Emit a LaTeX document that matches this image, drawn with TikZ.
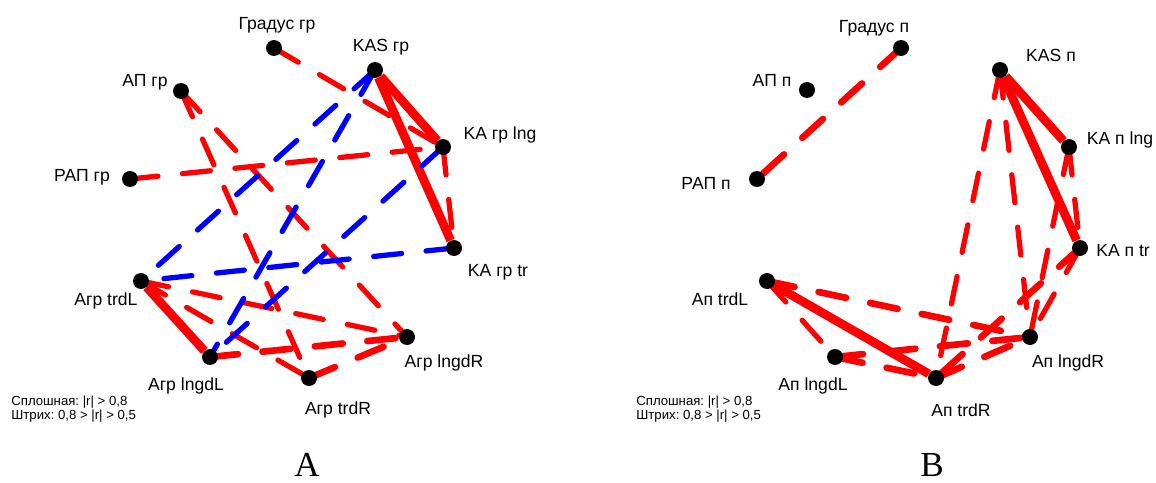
\documentclass[tikz,border=0pt]{standalone}
\usepackage{fontspec}
\setmainfont{Liberation Serif}
\newfontfamily\labfont{Liberation Sans}
\usepackage{tikz}
\usetikzlibrary{backgrounds}
\frenchspacing

\begin{document}
\begin{tikzpicture}[
  x=0.02cm, y=-0.02cm,
  vert/.style={circle, fill=black, inner sep=0pt, minimum size=0.32cm},
  tag/.style={font=\labfont\fontsize{10}{12}\selectfont, inner sep=0pt},
  strong/.style={draw=red, line width=5pt},
  weakpos/.style={draw=red, line width=3pt, line cap=round, dash pattern=on 16pt off 14pt},
  midpos/.style={weakpos, line width=3.8pt},
  weakneg/.style={weakpos, draw=blue},
  legend/.style={font=\labfont\fontsize{7.5}{7}\selectfont, align=left, anchor=west, inner sep=0pt},
  panel/.style={font=\fontsize{20}{24}\selectfont, inner sep=0pt}
]
  \useasboundingbox (0,0) rectangle (1156,483);

  % --- A: groups
  \node[vert] (gradA)  at (274,48)  {};
  \node[vert] (kasA)   at (375,70)  {};
  \node[vert] (apA)    at (181,91)  {};
  \node[vert] (kalngA) at (443,147) {};
  \node[vert] (rapA)   at (130,179) {};
  \node[vert] (katrA)  at (454,248) {};
  \node[vert] (trdlA)  at (141,281) {};
  \node[vert] (lngdrA) at (407,337) {};
  \node[vert] (lngdlA) at (210,357) {};
  \node[vert] (trdrA)  at (309,378) {};

  \node[tag] (gradAt)  at (277,25)  {Градус гр};
  \node[tag] (kasAt)   at (381,47)  {KAS гр};
  \node[tag] (apAt)    at (145,82)  {АП гр};
  \node[tag] (kalngAt) at (500,135) {KA гр lng};
  \node[tag] (rapAt)   at (82,177)  {РАП гр};
  \node[tag] (katrAt)  at (498,272) {KA гр tr};
  \node[tag] (trdlAt)  at (106,301) {Агр trdL};
  \node[tag] (lngdrAt) at (444,363) {Агр lngdR};
  \node[tag] (lngdlAt) at (186,386) {Агр lngdL};
  \node[tag] (trdrAt)  at (338,410) {Агр trdR};

  \node[legend] (keyA) at (11,409) {Сплошная: |r| > 0,8\\Штрих: 0,8 > |r| > 0,5};
  \node[panel] (capA) at (307,465) {A};

  % --- B: same variables
  \node[vert] (gradB)  at (901,48)  {};
  \node[vert] (kasB)   at (1000,70) {};
  \node[vert] (apB)    at (807,90)  {};
  \node[vert] (kalngB) at (1069,147) {};
  \node[vert] (rapB)   at (757,179) {};
  \node[vert] (katrB)  at (1080,248) {};
  \node[vert] (trdlB)  at (767,281) {};
  \node[vert] (lngdrB) at (1030,337) {};
  \node[vert] (lngdlB) at (835,357) {};
  \node[vert] (trdrB)  at (936,378) {};

  \node[tag] (gradBt)  at (874,28)  {Градус п};
  \node[tag] (kasBt)   at (1051,55) {KAS п};
  \node[tag] (apBt)    at (772,80)  {АП п};
  \node[tag] (kalngBt) at (1120,140) {KA п lng};
  \node[tag] (rapBt)   at (706,183) {РАП п};
  \node[tag] (katrBt)  at (1123,251) {KA п tr};
  \node[tag] (trdlBt)  at (720,299) {Ап trdL};
  \node[tag] (lngdrBt) at (1068,363) {Ап lngdR};
  \node[tag] (lngdlBt) at (813,386) {Ап lngdL};
  \node[tag] (trdrBt)  at (961,410) {Ап trdR};

  \node[legend] (keyB) at (636,409) {Сплошная: |r| > 0,8\\Штрих: 0,8 > |r| > 0,5};
  \node[panel] (capB) at (932,465) {B};

  \begin{scope}[on background layer]
    % links in A
    \draw[strong] (kasA) -- (kalngA);
    \draw[strong] (kasA) -- (katrA);
    \draw[strong] (trdlA) -- (lngdlA);
    \draw[weakpos] (gradA.center) -- (kalngA.center);
    \draw[weakpos] (kalngA.center) -- (katrA.center);
    \draw[weakpos] (rapA.center) -- (kalngA.center);
    \draw[weakpos] (apA.center) -- (trdrA.center);
    \draw[weakpos] (apA.center) -- (lngdrA.center);
    \draw[weakpos] (trdlA.center) -- (lngdrA.center);
    \draw[weakpos] (trdlA.center) -- (trdrA.center);
    \draw[midpos] (lngdlA.center) -- (lngdrA.center);
    \draw[midpos] (trdrA.center) -- (lngdrA.center);
    \draw[weakneg] (kasA.center) -- (trdlA.center);
    \draw[weakneg] (kasA.center) -- (lngdlA.center);
    \draw[weakneg] (kalngA.center) -- (lngdlA.center);
    \draw[weakneg] (katrA.center) -- (trdlA.center);

    % links in B
    \draw[strong] (kasB) -- (kalngB);
    \draw[strong] (kasB) -- (katrB);
    \draw[strong] (trdlB) -- (trdrB);
    \draw[midpos] (gradB.center) -- (rapB.center);
    \draw[weakpos] (kalngB.center) -- (katrB.center);
    \draw[weakpos] (kasB.center) -- (trdrB.center);
    \draw[weakpos] (kasB.center) -- (lngdrB.center);
    \draw[weakpos] (kalngB.center) -- (lngdrB.center);
    \draw[weakpos] (katrB.center) -- (lngdrB.center);
    \draw[midpos] (katrB.center) -- (trdrB.center);
    \draw[midpos] (trdlB.center) -- (lngdrB.center);
    \draw[weakpos] (trdlB.center) -- (lngdlB.center);
    \draw[midpos] (lngdlB.center) -- (lngdrB.center);
    \draw[midpos] (lngdlB.center) -- (trdrB.center);
    \draw[midpos] (trdrB.center) -- (lngdrB.center);
  \end{scope}
\end{tikzpicture}
\end{document}
